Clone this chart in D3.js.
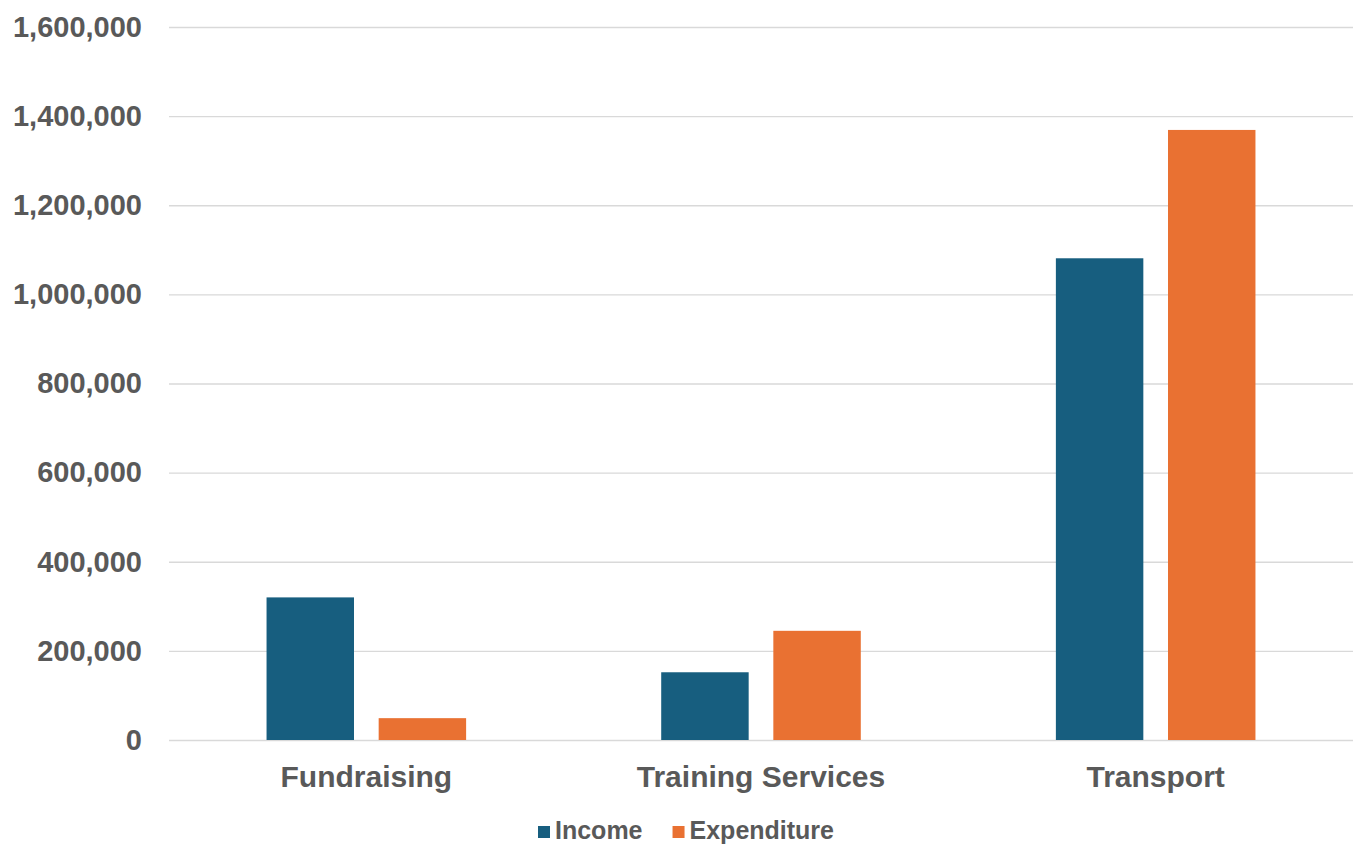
<!DOCTYPE html>
<html lang="en">

<head>
    <meta charset="UTF-8">
    <title>Income and Expenditure</title>
    <script src="https://cdn.jsdelivr.net/npm/d3@7"></script>
    <style>
        body { margin: 0; background: #fff; }
        text { font-family: "Liberation Sans", Arial, sans-serif; font-weight: bold; fill: #595959; }
    </style>
</head>

<body>
    <script>
        var categories = ["Fundraising", "Training Services", "Transport"];
        var series = ["Income", "Expenditure"];
        var income = [320000, 152000, 1081000];
        var expenditure = [49000, 245000, 1369000];
        var yTicks = [0, 200000, 400000, 600000, 800000, 1000000, 1200000, 1400000, 1600000];
        var colors = ["#175e7f", "#e97132"];

        var width = 1360, height = 846;
        var margin = { top: 27, right: 7, bottom: 106, left: 169 };

        var svg = d3.select("body").append("svg")
            .attr("width", width)
            .attr("height", height);

        var x0 = d3.scaleBand()
            .domain(categories)
            .range([margin.left, width - margin.right]);
        var x1 = d3.scaleBand()
            .domain(series)
            .range([0, x0.bandwidth()])
            .paddingInner(0.22)
            .paddingOuter(0.87);
        var y = d3.scaleLinear()
            .domain([0, 1600000])
            .range([height - margin.bottom, margin.top]);

        // gridlines + y labels
        var yAxis = svg.append("g")
            .attr("transform", "translate(" + margin.left + ",0)")
            .call(d3.axisLeft(y)
                .tickValues(yTicks)
                .tickSize(-(width - margin.left - margin.right))
                .tickPadding(27)
                .tickFormat(d3.format(",")));
        yAxis.select(".domain").remove();
        yAxis.selectAll(".tick line").attr("stroke", "#d9d9d9").attr("stroke-width", 1.3);
        yAxis.selectAll(".tick text")
            .style("font-size", "29px")
            .attr("fill", "#595959");

        var rows = categories.map(function (c, i) {
            return { cat: c, values: [income[i], expenditure[i]] };
        });

        var groups = svg.selectAll("g.cat")
            .data(rows)
            .enter().append("g")
            .attr("class", "cat")
            .attr("transform", function (d) { return "translate(" + x0(d.cat) + ",0)"; });
        groups.selectAll("rect")
            .data(function (d) { return d.values.map(function (v, i) { return { s: series[i], v: v, i: i }; }); })
            .enter().append("rect")
            .attr("x", function (d) { return x1(d.s); })
            .attr("width", x1.bandwidth())
            .attr("y", function (d) { return y(d.v); })
            .attr("height", function (d) { return y(0) - y(d.v); })
            .attr("fill", function (d) { return colors[d.i]; });

        // category labels
        svg.append("g").selectAll("text")
            .data(categories)
            .enter().append("text")
            .attr("x", function (d) { return x0(d) + x0.bandwidth() / 2; })
            .attr("y", 787)
            .attr("text-anchor", "middle")
            .style("font-size", "30px")
            .text(function (d) { return d; });

        // legend
        var legend = svg.append("g");
        var lx = 538;
        series.forEach(function (s, i) {
            legend.append("rect")
                .attr("x", lx)
                .attr("y", 826)
                .attr("width", 12)
                .attr("height", 12)
                .attr("fill", colors[i]);
            var t = legend.append("text")
                .attr("x", lx + 17)
                .attr("y", 839)
                .style("font-size", "25px")
                .text(s);
            lx += 17 + t.node().getComputedTextLength() + 30;
        });
    </script>
</body>

</html>
